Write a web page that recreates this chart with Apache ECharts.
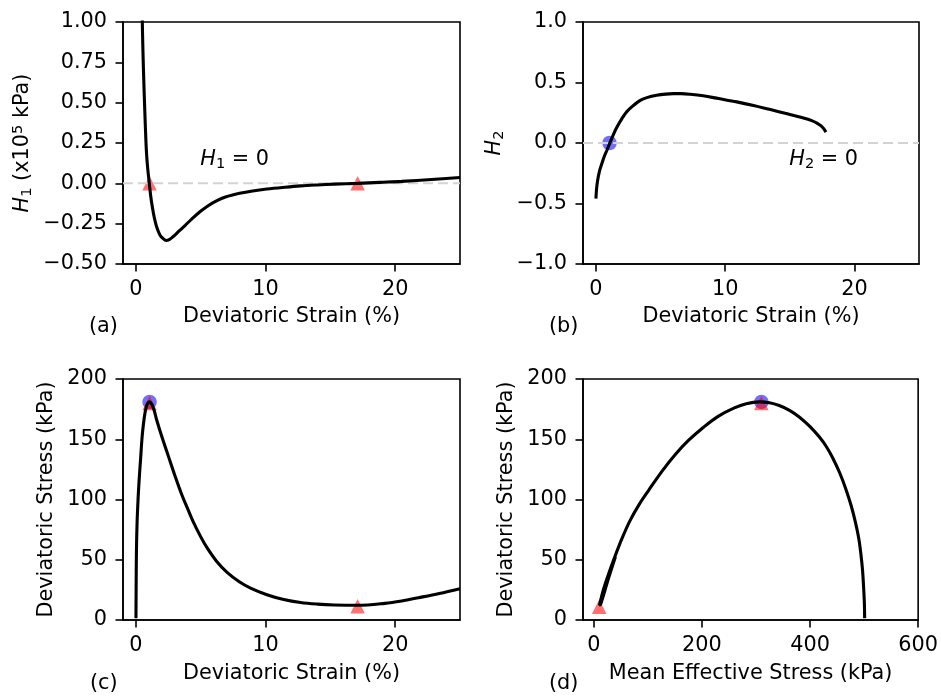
<!DOCTYPE html>
<html>
<head>
<meta charset="utf-8">
<script src="https://cdn.jsdelivr.net/npm/echarts@6/dist/echarts.min.js"></script>
<style>
html, body { margin: 0; padding: 0; background: #fff; }
#figure { position: relative; width: 941px; height: 697px; }
.panel { position: absolute; left: 0; top: 0; width: 941px; height: 697px; }
</style>
</head>
<body>
<div id="figure"></div>
<script>
// ---- axis ranges and tick values ----
const strainRange = [-1, 25];
const h1Range = [-0.5, 1.0];
const h2Range = [-1, 1];
const stressRange = [0, 200];
const meanStressRange = [-20, 600];

const strainTicks = [0, 10, 20];
const h1Ticks = [-0.5, -0.25, 0, 0.25, 0.5, 0.75, 1.0];
const h2Ticks = [-1, -0.5, 0, 0.5, 1];
const stressTicks = [0, 50, 100, 150, 200];
const meanStressTicks = [0, 200, 400, 600];

// ---- (a) H1 versus deviatoric strain [strain %, H1 x1e5 kPa] ----
const h1Curve = [
  [0.45, 1.2], [0.49, 1.0], [0.53, 0.85], [0.58, 0.7], [0.63, 0.57], [0.69, 0.43],
  [0.75, 0.3], [0.82, 0.18], [0.91, 0.09], [1.03, 0.0], [1.14, -0.08], [1.27, -0.15],
  [1.42, -0.215], [1.6, -0.27], [1.85, -0.32], [2.1, -0.343], [2.32, -0.354],
  [2.6, -0.347], [2.9, -0.328], [3.27, -0.3], [3.8, -0.26], [4.3, -0.222],
  [4.96, -0.175], [5.6, -0.137], [6.25, -0.107], [6.9, -0.085], [8.0, -0.062],
  [9.0, -0.047], [10.1, -0.035], [11.5, -0.024], [12.7, -0.016], [14.0, -0.01],
  [15.3, -0.005], [17.1, 0.0], [18.8, 0.006], [20.5, 0.012], [22.8, 0.024], [25.0, 0.036]
];
const h1Roots = [[1.05, 0], [17.1, 0]];

// ---- (b) H2 versus deviatoric strain ----
const h2Curve = [
  [0, -0.46], [0.05, -0.38], [0.13, -0.31], [0.28, -0.23], [0.46, -0.17], [0.65, -0.11],
  [0.85, -0.06], [1.08, 0.0], [1.35, 0.07], [1.62, 0.13], [2.0, 0.2], [2.4, 0.26],
  [2.9, 0.31], [3.43, 0.353], [4.0, 0.377], [4.7, 0.394], [5.4, 0.404], [6.0, 0.408],
  [6.6, 0.408], [7.3, 0.403], [8.3, 0.39], [9.5, 0.367], [10.9, 0.34], [12.2, 0.31],
  [13.5, 0.276], [14.8, 0.242], [16.06, 0.207], [16.7, 0.185], [17.1, 0.165],
  [17.45, 0.14], [17.65, 0.115], [17.8, 0.09]
];
const h2Roots = [[1.05, 0]];

// ---- (c) deviatoric stress versus deviatoric strain [strain %, q kPa] ----
const stressStrainCurve = [
  [0.0, 1.5], [0.01, 20], [0.025, 45], [0.05, 65], [0.09, 82], [0.14, 95], [0.2, 108],
  [0.28, 122], [0.36, 134], [0.46, 150], [0.57, 162], [0.7, 172], [0.85, 178.5],
  [1.05, 181], [1.22, 179], [1.4, 174], [1.6, 166], [2.0, 152], [2.5, 136], [3.0, 120],
  [3.5, 105], [4.0, 92], [4.44, 81], [5.0, 69], [5.48, 60], [6.2, 49], [7.03, 39.5],
  [8.0, 31.5], [8.84, 26.5], [10.1, 21], [11.4, 17], [12.7, 14.5], [14.0, 13.2],
  [15.3, 12.5], [17.1, 12.2], [19.2, 13.8], [20.5, 15.8], [21.8, 18.5], [23.4, 22], [25.0, 26]
];
const stressPeak = [[1.05, 181]];
const stressMarks = [[1.05, 180], [17.1, 11.5]];

// ---- (d) stress path [mean effective stress kPa, q kPa] ----
const stressPathCurve = [
  [501, 1.5], [500.5, 14], [499, 28], [497, 42], [494, 55], [490, 68], [484, 81],
  [476, 95], [466, 109], [455, 122], [442, 134.5], [430, 144], [417, 152], [400, 160.5],
  [380, 168.5], [362, 174], [343, 178], [325, 180.3], [306, 181], [282, 179.5],
  [260, 176], [230, 169], [203, 160], [175, 149], [150, 137], [127, 124], [102, 108],
  [84, 96], [67, 82.5], [52, 67.5], [38.5, 52], [26, 36.5], [18, 25.5], [10.5, 12.4],
  [12.5, 12.8], [27.5, 35], [40, 52.5]
];
const pathPeak = [[310, 181]];
const pathMarks = [[310, 180], [10, 11]];

// ---- styling ----
const FONT = "'DejaVu Sans', sans-serif";
const FS = 20.8;
const SUB = 14.6;
const richMath = {
  i: { fontFamily: FONT, fontSize: FS, fontStyle: 'italic', lineHeight: 24, color: '#000' },
  n: { fontFamily: FONT, fontSize: FS, lineHeight: 24, color: '#000' },
  sub: { fontFamily: FONT, fontSize: SUB, lineHeight: 9, verticalAlign: 'bottom', color: '#000' },
  sup: { fontFamily: FONT, fontSize: SUB, lineHeight: 10, verticalAlign: 'top', color: '#000' }
};
const minus = s => s.replace('-', '\u2212');
const fmtInt = v => minus(String(v));
const fmt2 = v => minus(v.toFixed(2));
const fmt1 = v => minus(v.toFixed(1));
const TRI = 'rgba(255,0,0,0.7)';
const CIRC = 'rgba(0,0,255,0.7)';

function axis(range, ticks, name, nameGap, fmt, margin) {
  return {
    type: 'value', min: range[0], max: range[1],
    name, nameLocation: 'middle', nameGap,
    nameTextStyle: { fontFamily: FONT, fontSize: FS, color: '#000', lineHeight: 24, rich: richMath },
    axisLine: { show: true, onZero: false, lineStyle: { color: '#000', width: 1.6 } },
    axisTick: { show: true, length: 7.5, customValues: ticks, lineStyle: { color: '#000', width: 1.6 } },
    axisLabel: { customValues: ticks, margin, color: '#000', fontFamily: FONT, fontSize: FS, formatter: fmt },
    splitLine: { show: false }
  };
}
function curve(data, note) {
  const s = { type: 'line', data, symbol: 'none', smooth: 0.35, lineStyle: { color: '#000', width: 3.1 } };
  if (note) {
    s.markPoint = {
      symbol: 'circle', symbolSize: 1, itemStyle: { color: 'rgba(0,0,0,0)' },
      label: { show: true, position: [0, 0], align: 'left', verticalAlign: 'bottom', offset: [0, 5],
        formatter: note.text, rich: richMath },
      data: [{ coord: note.at }]
    };
  }
  return s;
}
function marks(data, symbol) {
  return { type: 'scatter', data, symbol, symbolSize: 14.5,
    itemStyle: { color: symbol === 'circle' ? CIRC : TRI } };
}
// light dashed reference line at zero across the strain range
function zeroLine(xr) {
  return { type: 'line', data: [[xr[0], 0], [xr[1], 0]], symbol: 'none',
    lineStyle: { type: [10, 5], color: '#d3d3d3', width: 2 } };
}

const panels = [
  {
    tag: '(a)', tagAt: [89, 316],
    grid: { left: 123, top: 22, width: 337, height: 242 },
    x: axis(strainRange, strainTicks, 'Deviatoric Strain (%)', 41, fmtInt, 15),
    y: axis(h1Range, h1Ticks, '{i|H}{sub|1}{n| (x10}{sup|5}{n| kPa)}', 88, fmt2, 16),
    series: [zeroLine(strainRange), marks(h1Roots, 'triangle'),
      curve(h1Curve, { at: [5, 0.1], text: '{i|H}{sub|1}{n| = 0}' })]
  },
  {
    tag: '(b)', tagAt: [549, 316],
    grid: { left: 583, top: 22, width: 336, height: 242 },
    x: axis(strainRange, strainTicks, 'Deviatoric Strain (%)', 41, fmtInt, 15),
    y: axis(h2Range, h2Ticks, '{i|H}{sub|2}', 76, fmt1, 16),
    series: [zeroLine(strainRange), marks(h2Roots, 'circle'),
      curve(h2Curve, { at: [15, -0.2], text: '{i|H}{sub|2}{n| = 0}' })]
  },
  {
    tag: '(c)', tagAt: [90, 673],
    grid: { left: 123, top: 379, width: 337, height: 241 },
    x: axis(strainRange, strainTicks, 'Deviatoric Strain (%)', 41.5, fmtInt, 15),
    y: axis(stressRange, stressTicks, 'Deviatoric Stress (kPa)', 64, fmtInt, 16),
    series: [marks(stressPeak, 'circle'), marks(stressMarks, 'triangle'), curve(stressStrainCurve)]
  },
  {
    tag: '(d)', tagAt: [549, 673],
    grid: { left: 583, top: 379, width: 336, height: 241 },
    x: axis(meanStressRange, meanStressTicks, 'Mean Effective Stress (kPa)', 41.5, fmtInt, 15),
    y: axis(stressRange, stressTicks, 'Deviatoric Stress (kPa)', 64, fmtInt, 16),
    series: [marks(pathPeak, 'circle'), marks(pathMarks, 'triangle'), curve(stressPathCurve)]
  }
];

const figure = document.getElementById('figure');
panels.forEach(p => {
  const el = document.createElement('div');
  el.className = 'panel';
  figure.appendChild(el);
  const chart = echarts.init(el);
  chart.setOption({
    animation: false,
    title: {
      text: p.tag, left: p.tagAt[0], top: p.tagAt[1], padding: 0,
      textStyle: { fontFamily: FONT, fontSize: FS, fontWeight: 'normal', color: '#000', lineHeight: 22 }
    },
    grid: Object.assign({ show: true, borderColor: '#000', borderWidth: 1.6 }, p.grid),
    xAxis: p.x,
    yAxis: p.y,
    series: p.series
  });
});
</script>
</body>
</html>
